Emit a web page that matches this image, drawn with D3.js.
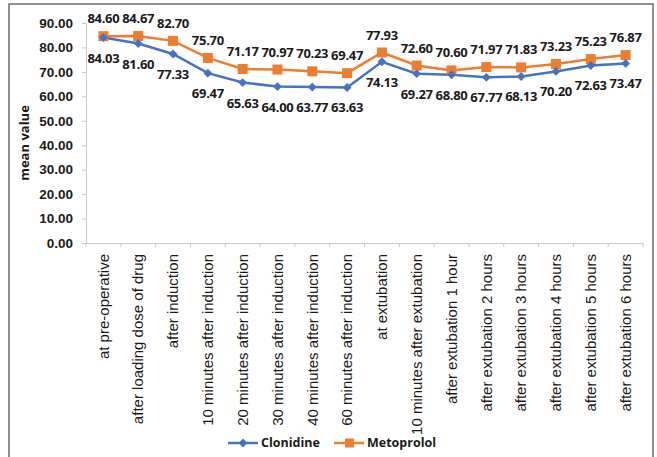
<!DOCTYPE html>
<html>
<head>
<meta charset="utf-8">
<script src="https://cdn.jsdelivr.net/npm/d3@7"></script>
<style>
  html, body { margin: 0; padding: 0; background: #fff; }
  svg { display: block; font-family: "Open Sans", "Liberation Sans", sans-serif; }
</style>
</head>
<body>
<svg id="chart" width="657" height="457"></svg>
<script>
// Time points of measurement
const categories = [
  "at pre-operative",
  "after loading dose of drug",
  "after induction",
  "10 minutes after induction",
  "20 minutes after induction",
  "30 minutes after induction",
  "40 minutes after induction",
  "60 minutes after induction",
  "at extubation",
  "10 minutes after extubation",
  "after extubation 1 hour",
  "after extubation 2 hours",
  "after extubation 3 hours",
  "after extubation 4 hours",
  "after extubation 5 hours",
  "after extubation 6 hours"
];

// Mean values per group
const clonidine = [84.03, 81.60, 77.33, 69.47, 65.63, 64.00, 63.77, 63.63, 74.13, 69.27, 68.80, 67.77, 68.13, 70.20, 72.63, 73.47];
const metoprolol = [84.60, 84.67, 82.70, 75.70, 71.17, 70.97, 70.23, 69.47, 77.93, 72.60, 70.60, 71.97, 71.83, 73.23, 75.23, 76.87];

const yTicks = [0, 10, 20, 30, 40, 50, 60, 70, 80, 90];

const svg = d3.select("#chart");

// Outer frame
svg.append("rect")
  .attr("x", 9).attr("y", 4)
  .attr("width", 644).attr("height", 470)
  .attr("fill", "none").attr("stroke", "#6b6b6b").attr("stroke-width", 1.5);

const plotLeft = 86, plotRight = 643, plotTop = 23, plotBottom = 243;

// Clip the rotated category labels to the chart area
svg.append("defs").append("clipPath").attr("id", "cat-clip")
  .append("rect").attr("x", 0).attr("y", 0).attr("width", 657).attr("height", 421);

const x = d3.scaleBand().domain(categories).range([plotLeft, plotRight]);
const y = d3.scaleLinear().domain([0, 90]).range([plotBottom, plotTop]);
const cx = d => x(d) + x.bandwidth() / 2;

// Y axis
const yAxis = svg.append("g")
  .attr("transform", `translate(${plotLeft},0)`)
  .call(d3.axisLeft(y).tickValues(yTicks).tickFormat(d3.format(".2f")).tickSize(4).tickPadding(9));
yAxis.select(".domain").attr("stroke", "#c8c8c8");
yAxis.selectAll(".tick line").attr("stroke", "#c8c8c8");
yAxis.selectAll(".tick text")
  .attr("fill", "#1a1a1a").style("font-size", "13.5px").style("font-weight", "bold");

// X axis
const xAxis = svg.append("g")
  .attr("transform", `translate(0,${plotBottom})`)
  .attr("clip-path", "url(#cat-clip)")
  .call(d3.axisBottom(x).tickSize(0).tickPadding(0));
xAxis.select(".domain").attr("stroke", "#c8c8c8");
xAxis.selectAll(".tick text")
  .attr("fill", "#1a1a1a")
  .style("font-size", "15px")
  .style("font-weight", "500")
  .attr("text-anchor", "end")
  .attr("dy", "0.35em")
  .attr("transform", "translate(0,11) rotate(-90)");
// Category boundary ticks
const bounds = categories.map(c => x(c)).concat([plotRight]);
svg.append("g").selectAll("line").data(bounds).join("line")
  .attr("x1", d => d).attr("x2", d => d)
  .attr("y1", plotBottom).attr("y2", plotBottom + 4)
  .attr("stroke", "#c8c8c8");

// Y axis title
svg.append("text")
  .attr("transform", `translate(29,143) rotate(-90)`)
  .attr("text-anchor", "middle")
  .style("font-size", "13px").style("font-weight", "bold")
  .attr("fill", "#1a1a1a")
  .text("mean value");

const blue = "#4472C4", orange = "#ED7D31";
const line = d3.line().x((d, i) => cx(categories[i])).y(d => y(d));

// Series lines
svg.append("path").datum(metoprolol)
  .attr("d", line).attr("fill", "none").attr("stroke", orange).attr("stroke-width", 2.5);
svg.append("path").datum(clonidine)
  .attr("d", line).attr("fill", "none").attr("stroke", blue).attr("stroke-width", 2.5);

// Markers
svg.append("g").selectAll("rect").data(metoprolol).join("rect")
  .attr("x", (d, i) => cx(categories[i]) - 5)
  .attr("y", d => y(d) - 5)
  .attr("width", 10).attr("height", 10)
  .attr("fill", orange);
const diamond = d3.symbol().type(d3.symbolDiamond2).size(50);
svg.append("g").selectAll("path").data(clonidine).join("path")
  .attr("d", diamond)
  .attr("transform", (d, i) => `translate(${cx(categories[i])},${y(d)})`)
  .attr("fill", blue);

// Data labels
const lblStyle = sel => sel
  .attr("text-anchor", "middle")
  .style("font-size", "13px").style("font-weight", "bold")
  .style("letter-spacing", "-0.3px")
  .attr("fill", "#1a1a1a")
  .text(d => d.toFixed(2));

svg.append("g").selectAll("text").data(metoprolol).join("text")
  .attr("x", (d, i) => cx(categories[i]))
  .attr("y", d => y(d) - 13)
  .call(lblStyle);
svg.append("g").selectAll("text").data(clonidine).join("text")
  .attr("x", (d, i) => cx(categories[i]))
  .attr("y", d => y(d) + 25)
  .call(lblStyle);

// Legend
const legend = svg.append("g").attr("transform", "translate(0,443)");
const items = [
  { name: "Clonidine", color: blue, x: 228, shape: "diamond" },
  { name: "Metoprolol", color: orange, x: 334, shape: "square" }
];
items.forEach(it => {
  legend.append("line")
    .attr("x1", it.x).attr("x2", it.x + 30)
    .attr("stroke", it.color).attr("stroke-width", 2.5);
  if (it.shape === "square") {
    legend.append("rect").attr("x", it.x + 11).attr("y", -4.5)
      .attr("width", 9).attr("height", 9).attr("fill", it.color);
  } else {
    legend.append("path").attr("d", diamond)
      .attr("transform", `translate(${it.x + 15},0)`).attr("fill", it.color);
  }
  legend.append("text")
    .attr("x", it.x + 33).attr("dy", "0.35em")
    .style("font-size", "12.5px").style("font-weight", "bold")
    .attr("fill", "#1a1a1a")
    .text(it.name);
});
</script>
</body>
</html>
